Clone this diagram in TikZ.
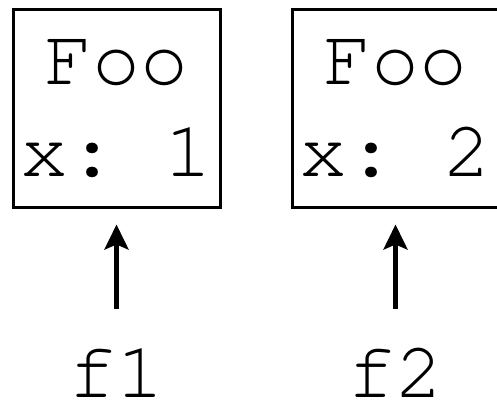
\documentclass[tikz,border=0pt]{standalone}
\usepackage[T1]{fontenc}
\usepackage{courier}
\frenchspacing
\usetikzlibrary{arrows.meta, positioning}
\tikzset{
  >={Stealth[length=25pt, width=24pt, inset=5pt]},
  ob box/.style={draw=black, fill=white, line width=3pt, align=center,
    minimum width=207pt, minimum height=197pt, inner sep=0pt,
    font=\ttfamily\fontsize{80}{92}\selectfont},
  ob ref/.style={inner sep=0pt, text height=50pt, text depth=0pt, anchor=base,
    font=\ttfamily\fontsize{80}{90}\selectfont},
  ob arrow/.style={draw=black, ->, line width=4.4pt,
    shorten <=38pt, shorten >=16pt},
}
\begin{document}
\begin{tikzpicture}[x=1pt, y=1pt]
 \useasboundingbox (0,0) rectangle (497,402);
 \node[ob box] (foo1) at (116.5,293.5) {Foo\\x: 1};
 \node[ob box] (foo2) at (395.5,293.5) {Foo\\x: 2};
 \node[ob ref] (f1) at (116.5,5) {f1};
 \node[ob ref] (f2) at (395.5,5) {f2};
 \draw[ob arrow] (f1.north) -- (foo1.south);
 \draw[ob arrow] (f2.north) -- (foo2.south);
\end{tikzpicture}
\end{document}
